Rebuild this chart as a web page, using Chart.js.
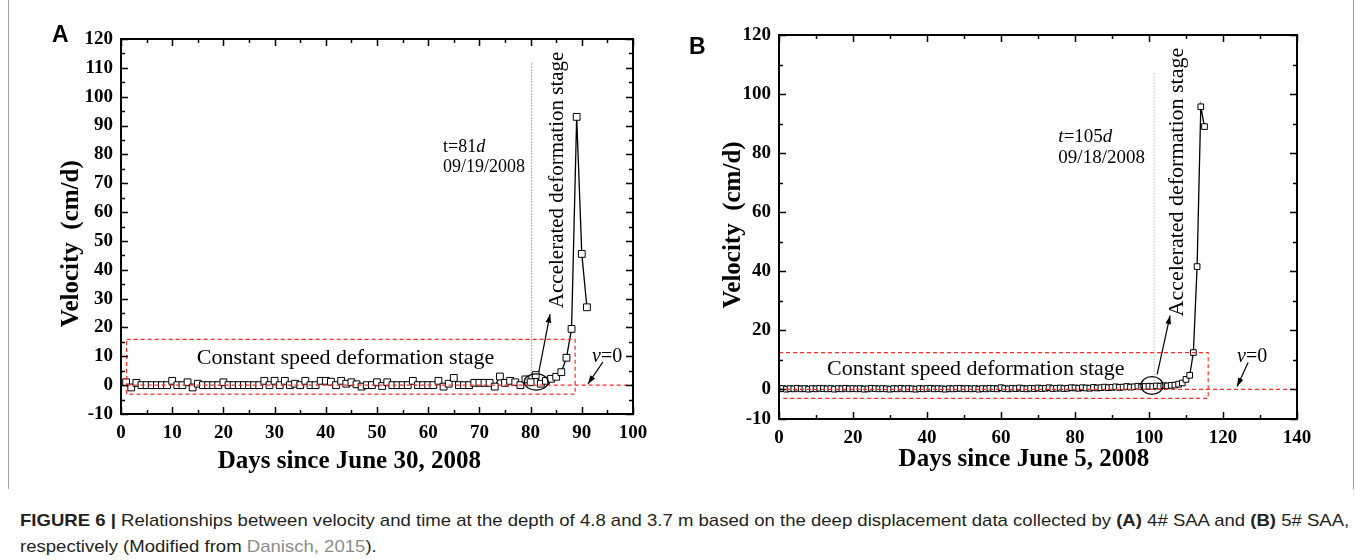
<!DOCTYPE html>
<html>
<head>
<meta charset="utf-8">
<script src="https://cdn.jsdelivr.net/npm/chart.js@4.4.1/dist/chart.umd.min.js"></script>
<style>
html, body { margin: 0; padding: 0; background: #fff; width: 1356px; height: 560px; overflow: hidden; }
#frame { position: absolute; left: 8px; top: -2px; width: 1346px; height: 491px; border-left: 1px solid #a0a0a0; border-right: 1px solid #a0a0a0; box-sizing: border-box; }
canvas { position: absolute; top: 0; }
#cA { left: 0; }
#cB { left: 670px; }
.panel { position: absolute; font: bold 23px "Liberation Sans", Arial, sans-serif; color: #000; line-height: 1; }
.cap { position: absolute; left: 20px; font: 17px "Liberation Sans", Arial, sans-serif; color: #231f20; white-space: nowrap; transform-origin: 0 50%; }
.cap b { font-weight: bold; }
.ref { color: #8c8c8c; }
</style>
</head>
<body>
<div id="frame"></div>
<canvas id="cA" width="660" height="480"></canvas>
<canvas id="cB" width="686" height="480"></canvas>
<div class="panel" style="left:52px;top:23px">A</div>
<div class="panel" style="left:689px;top:35px">B</div>
<div class="cap" id="cap1" style="top:511px"><b>FIGURE 6</b> <b>|</b> Relationships between velocity and time at the depth of 4.8 and 3.7 m based on the deep displacement data collected by <b>(A)</b> 4# SAA and <b>(B)</b> 5# SAA,</div>
<div class="cap" id="cap2" style="top:537px">respectively (Modified from <span class="ref">Danisch, 2015</span>).</div>
<script>
// ── panel A: SAA 4#, depth 4.8 m ──
const daysA = [1, 2, 3, 4, 5, 6, 7, 8, 9, 10,
  11, 12, 13, 14, 15, 16, 17, 18, 19, 20,
  21, 22, 23, 24, 25, 26, 27, 28, 29, 30,
  31, 32, 33, 34, 35, 36, 37, 38, 39, 40,
  41, 42, 43, 44, 45, 46, 47, 48, 49, 50,
  51, 52, 53, 54, 55, 56, 57, 58, 59, 60,
  61, 62, 63, 64, 65, 66, 67, 68, 69, 70,
  71, 72, 73, 74, 75, 76, 77, 78, 79, 80,
  81, 82, 83, 84, 85, 86, 87, 88, 89, 90, 91];
const velA = [1.0, -0.8, 0.8, 0, 0, 0, 0, 0, 0, 1.5,
  0, 0, 1.0, -0.8, 0.5, 0, 0, 0, 0, 1.0,
  0, 0, 0, 0, 0, 0, 0, 1.5, 0, 1.5,
  0, 1.5, 0, 0.5, 0, 1.5, 0, 0, 1.5, 1.5,
  1.2, 0, 1.5, 0.5, 1.0, 0.3, -0.5, 0, 0, 1.0,
  -0.3, 1.0, 0, 0, 0, 0, 1.5, 0, 0, 0,
  0, 1.5, -0.5, 0.5, 2.5, 0, 0, 0, 0.8, 0.8,
  0.8, 0.8, -0.5, 3.0, 0.8, 1.5, 1.0, 0, 2.0, 1.0,
  3.5, 0.5, 1.5, 2.2, 2.9, 4.5, 9.5, 19.5, 93, 45.5, 27];

// ── panel B: SAA 5#, depth 3.7 m ──
const daysB = [0, 1, 2, 3, 4, 5, 6, 7, 8, 9,
  10, 11, 12, 13, 14, 15, 16, 17, 18, 19,
  20, 21, 22, 23, 24, 25, 26, 27, 28, 29,
  30, 31, 32, 33, 34, 35, 36, 37, 38, 39,
  40, 41, 42, 43, 44, 45, 46, 47, 48, 49,
  50, 51, 52, 53, 54, 55, 56, 57, 58, 59,
  60, 61, 62, 63, 64, 65, 66, 67, 68, 69,
  70, 71, 72, 73, 74, 75, 76, 77, 78, 79,
  80, 81, 82, 83, 84, 85, 86, 87, 88, 89,
  90, 91, 92, 93, 94, 95, 96, 97, 98, 99,
  100, 101, 102, 103, 104, 105, 106, 107, 108, 109,
  110, 111, 112, 113, 114, 115];
const velB = [0.2, 0.3, 0.1, 0.3, 0.2, 0.4, 0.2, 0.3, 0.1, 0.3,
  0.2, 0.4, 0.3, 0.2, 0.3, 0.1, 0.3, 0.2, 0.4, 0.2,
  0.3, 0.2, 0.3, 0.1, 0.2, 0.4, 0.3, 0.2, 0.3, 0.2,
  0.1, 0.3, 0.2, 0.4, 0.2, 0.3, 0.2, 0.1, 0.3, 0.2,
  0.3, 0.4, 0.2, 0.3, 0.2, 0.1, 0.3, 0.2, 0.3, 0.4,
  0.2, 0.3, 0.2, 0.3, 0.1, 0.3, 0.2, 0.4, 0.3, 0.2,
  0.6, 0.3, 0.2, 0.4, 0.3, 0.5, 0.3, 0.2, 0.4, 0.3,
  0.5, 0.3, 0.4, 0.6, 0.3, 0.4, 0.5, 0.3, 0.4, 0.6,
  0.5, 0.4, 0.6, 0.5, 0.4, 0.7, 0.5, 0.6, 0.8, 0.6,
  0.7, 0.9, 0.7, 0.8, 1.0, 0.8, 0.9, 1.1, 0.9, 1.0,
  1.1, 1.0, 1.2, 1.1, 1.3, 1.2, 1.4, 1.5, 1.8, 2.2,
  3.4, 4.8, 12.5, 41.6, 95.7, 89.0];

const SERIF = '"Liberation Serif", "Times New Roman", serif';

// annotations, all in data units
const notesA = {
  xTitle: 'Days since June 30, 2008', xTitleAt: [44.6, -26.6],
  yTitleAt: [-9.7, 49],
  minorX: 5, minorY: 5,
  box: [1.1, 88.7, -3.1, 15.9], zeroLine: [1.1, 100],
  vline: { x: 80.2, y0: 3, y1: 111.5, color: '#555' },
  constant: [14.8, 9.4, 22],
  accel: [85.2, 26.7, 21],
  accelArrow: [81.6, 4.5, 83.8, 24.6],
  ellipse: [81.1, 1.1, 2.35, 2.8],
  tLines: [['t=81', 'd'], '09/19/2008'], tAt: [62.9, 82.5, 75.6], tSize: 18, tItalic: false,
  v0At: [92, 9.8], v0Arrow: [94.1, 8.0, 91.2, 0.4],
};
const notesB = {
  xTitle: 'Days since June 5, 2008', xTitleAt: [66.2, -23.7],
  yTitleAt: [-12.2, 55.7],
  minorX: 10, minorY: 10,
  box: [0, 116, -3.0, 12.5], zeroLine: [0, 140],
  vline: { x: 101.4, y0: 3, y1: 107.5, color: '#999' },
  constant: [13, 6.8, 22],
  accel: [107.6, 24.7, 22],
  accelArrow: [102.2, 5.1, 105.7, 25],
  ellipse: [100.8, 1.35, 3.0, 3.0],
  tLines: [['t', '=105', 'd'], '09/18/2008'], tAt: [75.5, 85.5, 78.4], tSize: 19, tItalic: true,
  v0At: [123.8, 11.2], v0Arrow: [126.8, 9.1, 123.8, 1.0],
};

function arrow(ctx, x0, y0, x1, y1) {
  ctx.beginPath(); ctx.moveTo(x0, y0); ctx.lineTo(x1, y1); ctx.stroke();
  const a = Math.atan2(y1 - y0, x1 - x0), L = 9, W = 0.32;
  ctx.beginPath();
  ctx.moveTo(x1, y1);
  ctx.lineTo(x1 - L * Math.cos(a - W), y1 - L * Math.sin(a - W));
  ctx.lineTo(x1 - L * Math.cos(a + W), y1 - L * Math.sin(a + W));
  ctx.closePath(); ctx.fill();
}

// frame, inward ticks, titles and notes
function decor(n) {
  return {
    id: 'decor',
    afterDraw(chart) {
      const { ctx, chartArea: ca, scales: { x, y } } = chart;
      const px = (v) => x.getPixelForValue(v), py = (v) => y.getPixelForValue(v);
      ctx.save();
      ctx.strokeStyle = '#000'; ctx.fillStyle = '#000';

      // ticks (inward, all four sides)
      ctx.lineWidth = 1.5;
      for (let v = x.min; v <= x.max + 1e-6; v += n.minorX) {
        const major = x.ticks.some((t) => Math.abs(t.value - v) < 1e-6);
        const L = major ? 7 : 4, X = Math.round(px(v)) + 0.5;
        ctx.beginPath();
        ctx.moveTo(X, ca.bottom); ctx.lineTo(X, ca.bottom - L);
        ctx.moveTo(X, ca.top); ctx.lineTo(X, ca.top + L);
        ctx.stroke();
      }
      for (let v = y.min; v <= y.max + 1e-6; v += n.minorY) {
        const major = y.ticks.some((t) => Math.abs(t.value - v) < 1e-6);
        const L = major ? 7 : 4, Y = Math.round(py(v)) + 0.5;
        ctx.beginPath();
        ctx.moveTo(ca.left, Y); ctx.lineTo(ca.left + L, Y);
        ctx.moveTo(ca.right, Y); ctx.lineTo(ca.right - L, Y);
        ctx.stroke();
      }
      ctx.lineWidth = 2;
      ctx.strokeRect(ca.left, ca.top, ca.right - ca.left, ca.bottom - ca.top);

      // axis titles
      ctx.font = 'bold 25px ' + SERIF;
      ctx.textAlign = 'center'; ctx.textBaseline = 'middle';
      ctx.fillText(n.xTitle, px(n.xTitleAt[0]), py(n.xTitleAt[1]));
      ctx.save();
      ctx.translate(px(n.yTitleAt[0]), py(n.yTitleAt[1]));
      ctx.rotate(-Math.PI / 2);
      ctx.fillText('Velocity  (cm/d)', 0, 0);
      ctx.restore();
      ctx.restore();
    },
    afterDatasetsDraw(chart) {
      const { ctx, scales: { x, y } } = chart;
      const px = (v) => x.getPixelForValue(v), py = (v) => y.getPixelForValue(v);
      ctx.save();

      // red dashed stage box + v=0 line
      ctx.strokeStyle = '#ff2a2a'; ctx.lineWidth = 1.2; ctx.setLineDash([4, 3]);
      const [bx0, bx1, by0, by1] = n.box;
      ctx.strokeRect(px(bx0), py(by1), px(bx1) - px(bx0), py(by0) - py(by1));
      ctx.beginPath(); ctx.moveTo(px(n.zeroLine[0]), py(0)); ctx.lineTo(px(n.zeroLine[1]), py(0)); ctx.stroke();

      // dotted onset line
      ctx.strokeStyle = n.vline.color; ctx.lineWidth = 1; ctx.setLineDash([1, 2]);
      ctx.beginPath(); ctx.moveTo(px(n.vline.x), py(n.vline.y0)); ctx.lineTo(px(n.vline.x), py(n.vline.y1)); ctx.stroke();
      ctx.setLineDash([]);

      // ellipse and arrows
      ctx.strokeStyle = '#000'; ctx.fillStyle = '#000'; ctx.lineWidth = 1.2;
      const [ex, ey, erx, ery] = n.ellipse;
      ctx.beginPath();
      ctx.ellipse(px(ex), py(ey), Math.abs(px(ex + erx) - px(ex)), Math.abs(py(ey + ery) - py(ey)), 0, 0, Math.PI * 2);
      ctx.stroke();
      const a = n.accelArrow; arrow(ctx, px(a[0]), py(a[1]), px(a[2]), py(a[3]));
      const b = n.v0Arrow; arrow(ctx, px(b[0]), py(b[1]), px(b[2]), py(b[3]));

      // texts
      ctx.textBaseline = 'middle'; ctx.textAlign = 'left';
      ctx.font = n.constant[2] + 'px ' + SERIF;
      ctx.fillText('Constant speed deformation stage', px(n.constant[0]), py(n.constant[1]));

      ctx.save();
      ctx.translate(px(n.accel[0]), py(n.accel[1]));
      ctx.rotate(-Math.PI / 2);
      ctx.font = n.accel[2] + 'px ' + SERIF;
      ctx.fillText('Accelerated deformation stage', 0, 0);
      ctx.restore();

      // t=..d label (italic parts alternate)
      const reg = n.tSize + 'px ' + SERIF, ita = 'italic ' + n.tSize + 'px ' + SERIF;
      let cx = px(n.tAt[0]);
      n.tLines[0].forEach((s, i) => {
        const it = n.tItalic ? (i % 2 === 0) : (i % 2 === 1);
        ctx.font = it ? ita : reg;
        ctx.fillText(s, cx, py(n.tAt[1]));
        cx += ctx.measureText(s).width;
      });
      ctx.font = reg;
      ctx.fillText(n.tLines[1], px(n.tAt[0]), py(n.tAt[2]));

      // v=0
      cx = px(n.v0At[0]);
      ctx.font = 'italic 20px ' + SERIF;
      ctx.fillText('v', cx, py(n.v0At[1]));
      cx += ctx.measureText('v').width;
      ctx.font = '20px ' + SERIF;
      ctx.fillText('=0', cx, py(n.v0At[1]));
      ctx.restore();
    },
  };
}

function makeChart(id, days, vel, xMax, xStep, yStep, pad, yWidth, r, notes) {
  const pts = days.map((d, i) => ({ x: d, y: vel[i] }));
  const tickFont = { family: SERIF, size: 19, weight: 'bold' };
  return new Chart(document.getElementById(id), {
    type: 'scatter',
    data: {
      datasets: [{
        data: pts,
        showLine: true,
        borderColor: '#000', borderWidth: 1.3,
        pointStyle: 'rect', pointRadius: r, pointHoverRadius: r,
        pointBackgroundColor: '#fff', pointBorderColor: '#000', pointBorderWidth: 1,
      }],
    },
    options: {
      responsive: false, animation: false,
      layout: { padding: pad },
      plugins: { legend: { display: false }, tooltip: { enabled: false } },
      scales: {
        x: {
          type: 'linear', min: 0, max: xMax,
          grid: { display: false, drawTicks: false }, border: { display: false },
          ticks: { stepSize: xStep, font: tickFont, color: '#000', padding: 8, maxRotation: 0 },
          afterFit: (s) => { s.height = 40; s.paddingLeft = 0; s.paddingRight = 0; },
        },
        y: {
          type: 'linear', min: -10, max: 120,
          grid: { display: false, drawTicks: false }, border: { display: false },
          ticks: { stepSize: yStep, font: tickFont, color: '#000', padding: 8 },
          afterFit: (s) => { s.width = yWidth; s.paddingTop = 0; s.paddingBottom = 0; },
        },
      },
    },
    plugins: [decor(notes)],
  });
}

makeChart('cA', daysA, velA, 100, 10, 10, { left: 0, right: 27, top: 39, bottom: 26 }, 121, 4.8, notesA);
makeChart('cB', daysB, velB, 140, 20, 20, { left: 0, right: 59, top: 35, bottom: 21 }, 109, 4, notesB);

// caption: condensed face in the source, fit to its width
const c1 = document.getElementById('cap1'), c2 = document.getElementById('cap2');
const k = 1329 / c1.offsetWidth;
c1.style.transform = c2.style.transform = 'scaleX(' + k + ')';
</script>
</body>
</html>
